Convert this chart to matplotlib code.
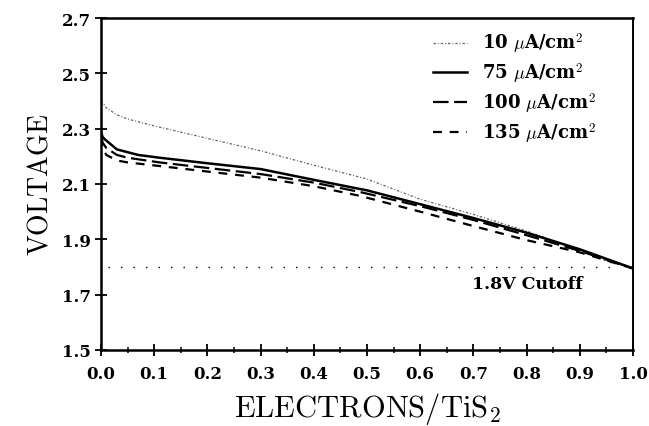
import matplotlib
matplotlib.use("Agg")
import matplotlib.pyplot as plt
from matplotlib.ticker import MultipleLocator, FixedLocator

plt.rcParams['mathtext.fontset'] = 'cm'

# ---- data ----
x_10 = [0.0, 0.005, 0.01, 0.03, 0.05, 0.1, 0.2, 0.3, 0.4, 0.5, 0.6, 0.7, 0.8, 0.9, 0.96, 1.0]
v_10 = [2.40, 2.39, 2.375, 2.35, 2.335, 2.31, 2.265, 2.22, 2.168, 2.118, 2.045, 1.99, 1.93, 1.86, 1.815, 1.795]

x_75 = [0.0, 0.003, 0.008, 0.03, 0.07, 0.11, 0.2, 0.3, 0.4, 0.5, 0.6, 0.7, 0.8, 0.9, 1.0]
v_75 = [2.29, 2.27, 2.26, 2.225, 2.205, 2.195, 2.175, 2.154, 2.115, 2.077, 2.027, 1.977, 1.924, 1.864, 1.795]

x_100 = [0.0, 0.003, 0.01, 0.03, 0.05, 0.11, 0.2, 0.3, 0.4, 0.487, 0.6, 0.7, 0.8, 0.9, 1.0]
v_100 = [2.28, 2.25, 2.23, 2.205, 2.195, 2.178, 2.158, 2.136, 2.105, 2.071, 2.02, 1.97, 1.915, 1.858, 1.795]

x_135 = [0.0, 0.003, 0.01, 0.03, 0.05, 0.11, 0.2, 0.3, 0.4, 0.487, 0.6, 0.7, 0.8, 0.9, 1.0]
v_135 = [2.27, 2.23, 2.205, 2.185, 2.178, 2.165, 2.145, 2.123, 2.092, 2.057, 2.0, 1.948, 1.897, 1.853, 1.795]

labels = [r'10 $\mu$A/cm$^{\mathbf{2}}$', r'75 $\mu$A/cm$^{\mathbf{2}}$',
          r'100 $\mu$A/cm$^{\mathbf{2}}$', r'135 $\mu$A/cm$^{\mathbf{2}}$']

cutoff_v = 1.8
cutoff_x = [0.013, 0.965]
cutoff_text = '1.8V Cutoff'
cutoff_text_pos = (0.697, 1.739)

xticks = [0.0, 0.1, 0.2, 0.3, 0.4, 0.5, 0.6, 0.7, 0.8, 0.9, 1.0]
yticks = [1.5, 1.7, 1.9, 2.1, 2.3, 2.5, 2.7]

# ---- figure ----
fig = plt.figure(figsize=(6.49, 4.27), dpi=100)
ax = fig.add_axes([0.1556, 0.178, 0.8197, 0.7775])

ax.plot(x_10, v_10, color='#666666', lw=0.9, linestyle=(0, (2, 1.5, 0.8, 1.5)), label=labels[0])
ax.plot(x_75, v_75, color='black', lw=1.8, linestyle='-', label=labels[1])
ax.plot(x_100, v_100, color='black', lw=1.6, linestyle=(0, (7, 2.5)), label=labels[2])
ax.plot(x_135, v_135, color='black', lw=1.6, linestyle=(0, (4, 3.5)), label=labels[3])

ax.plot(cutoff_x, [cutoff_v, cutoff_v], color='black', lw=1.0, linestyle=(0, (1, 8)))
ax.text(cutoff_text_pos[0], cutoff_text_pos[1], cutoff_text, ha='left', va='center',
        fontsize=12.5, fontweight='bold', family='DejaVu Serif')

ax.set_xlim(0.0, 1.0)
ax.set_ylim(1.5, 2.7)
ax.xaxis.set_major_locator(FixedLocator(xticks))
ax.xaxis.set_minor_locator(MultipleLocator(0.05))
ax.yaxis.set_major_locator(FixedLocator(yticks))
ax.set_xticklabels([f'{t:.1f}' for t in xticks])
ax.set_yticklabels([f'{t:.1f}' for t in yticks])

ax.tick_params(axis='both', which='major', direction='inout', length=9, width=1.3,
               labelsize=12, pad=3)
ax.tick_params(axis='x', which='major', pad=6)
ax.tick_params(axis='x', which='minor', direction='inout', length=5, width=1.1)
ax.tick_params(axis='y', which='minor', length=0)
for lab in ax.get_xticklabels() + ax.get_yticklabels():
    lab.set_fontweight('bold')
    lab.set_family('DejaVu Serif')

for side in ['left', 'bottom', 'top']:
    ax.spines[side].set_linewidth(1.8)
ax.spines['right'].set_linewidth(1.4)

ax.set_xlabel(r'$\mathrm{ELECTRONS/TiS_2}$', fontsize=22, labelpad=6)
ax.set_ylabel(r'$\mathrm{VOLTAGE}$', fontsize=20, labelpad=6)

leg = ax.legend(loc='upper right', bbox_to_anchor=(0.96, 1.01), frameon=False,
                prop={'family': 'DejaVu Serif', 'weight': 'bold', 'size': 13},
                handlelength=1.9, handletextpad=0.8, labelspacing=0.3)

fig.savefig('out.png', dpi=100)
